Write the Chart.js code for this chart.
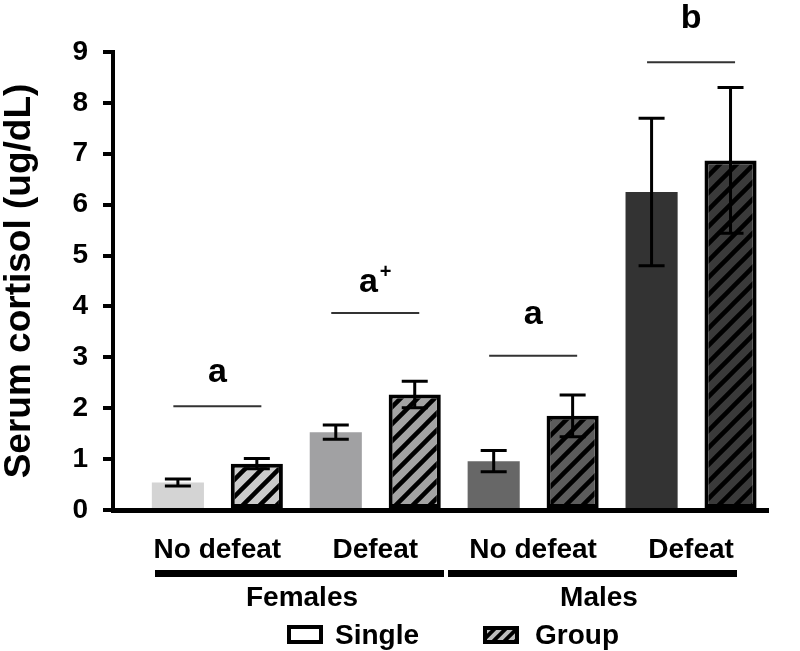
<!DOCTYPE html>
<html><head><meta charset="utf-8">
<script src="https://cdn.jsdelivr.net/npm/chart.js@4/dist/chart.umd.min.js"></script>
<style>html,body{margin:0;padding:0;background:#fff;}</style>
</head><body>
<canvas id="c" width="800" height="651"></canvas>
<script>
// ---- data ----
const categories = ['No defeat', 'Defeat', 'No defeat', 'Defeat'];
const sexGroups = ['Females', 'Males'];
const seriesNames = ['Single', 'Group'];
const singleMeans = [0.54, 1.53, 0.96, 6.25];
const singleErrors = [0.07, 0.14, 0.21, 1.45];
const groupMeans = [0.91, 2.27, 1.85, 6.87];
const groupErrors = [0.10, 0.26, 0.41, 1.43];
const yTicks = [0, 1, 2, 3, 4, 5, 6, 7, 8, 9];
const sigLetters = ['a', 'a', 'a', 'b'];
const sigSup = ['', '+', '', ''];
const sigLineLevels = [2.04, 3.87, 3.03, 8.80];
const sigTextLevels = [2.51, 4.28, 3.66, 9.47];

// ---- styles ----
const FONT = "'Liberation Sans', Arial, sans-serif";
const singleColors = ['#d4d4d4', '#a1a1a3', '#676767', '#333333'];
const groupColors = ['#cbcbcb', '#a3a3a3', '#5c5c5c', '#3a3a3a'];

function hatch(bg) {
  const s = 17;
  const c = document.createElement('canvas');
  c.width = s; c.height = s;
  const x = c.getContext('2d');
  x.fillStyle = bg; x.fillRect(0, 0, s, s);
  x.strokeStyle = '#000'; x.lineWidth = 4.5;
  x.beginPath();
  x.moveTo(-s, 2 * s); x.lineTo(2 * s, -s);
  x.moveTo(-s, s); x.lineTo(s, -s);
  x.moveTo(0, 2 * s); x.lineTo(2 * s, 0);
  x.stroke();
  return x.createPattern(c, 'repeat');
}

const errorBars = {
  id: 'errorBars',
  afterDatasetsDraw(chart) {
    const ctx = chart.ctx, y = chart.scales.y;
    const errs = [singleErrors, groupErrors];
    const means = [singleMeans, groupMeans];
    ctx.save();
    ctx.strokeStyle = '#000';
    ctx.lineWidth = 3;
    chart.data.datasets.forEach((ds, di) => {
      chart.getDatasetMeta(di).data.forEach((bar, i) => {
        const m = means[di][i], e = errs[di][i];
        const yt = y.getPixelForValue(m + e), yb = y.getPixelForValue(m - e);
        const x = bar.x;
        ctx.beginPath();
        ctx.moveTo(x, yt); ctx.lineTo(x, yb);
        ctx.moveTo(x - 13, yt); ctx.lineTo(x + 13, yt);
        ctx.moveTo(x - 13, yb); ctx.lineTo(x + 13, yb);
        ctx.stroke();
      });
    });
    ctx.restore();
  }
};

const decorations = {
  id: 'decorations',
  afterDraw(chart) {
    const ctx = chart.ctx, xs = chart.scales.x, ys = chart.scales.y;
    ctx.save();
    // significance lines and letters
    categories.forEach((c, i) => {
      const cx = xs.getPixelForValue(i);
      const ly = ys.getPixelForValue(sigLineLevels[i]);
      ctx.strokeStyle = '#333';
      ctx.lineWidth = 2;
      ctx.beginPath();
      ctx.moveTo(cx - 44, ly); ctx.lineTo(cx + 44, ly);
      ctx.stroke();
      const ty = ys.getPixelForValue(sigTextLevels[i]);
      ctx.fillStyle = '#000';
      ctx.textBaseline = 'alphabetic';
      ctx.font = 'bold 34px ' + FONT;
      const w1 = ctx.measureText(sigLetters[i]).width;
      let w2 = 0;
      if (sigSup[i]) { ctx.font = 'bold 20px ' + FONT; w2 = ctx.measureText(sigSup[i]).width + 2; }
      const sx = cx - (w1 + w2) / 2;
      ctx.font = 'bold 34px ' + FONT;
      ctx.textAlign = 'left';
      ctx.fillText(sigLetters[i], sx, ty);
      if (sigSup[i]) {
        ctx.font = 'bold 20px ' + FONT;
        ctx.fillText(sigSup[i], sx + w1 + 2, ty - 14);
      }
    });
    // group underlines
    ctx.fillStyle = '#000';
    const spans = [[155, 444], [448, 737]];
    spans.forEach(s => ctx.fillRect(s[0], 570, s[1] - s[0], 7));
    ctx.font = 'bold 28px ' + FONT;
    ctx.textAlign = 'center';
    ctx.textBaseline = 'middle';
    const gx = [302, 599];
    sexGroups.forEach((g, i) => ctx.fillText(g, gx[i], 598));
    // legend
    ctx.lineWidth = 4;
    ctx.strokeStyle = '#000';
    ctx.fillStyle = '#fff';
    ctx.fillRect(289, 627, 32, 15);
    ctx.strokeRect(289, 627, 32, 15);
    ctx.fillStyle = '#000';
    ctx.fillRect(483, 626, 36, 18);
    ctx.save();
    ctx.beginPath(); ctx.rect(487, 630, 28, 10); ctx.clip();
    ctx.strokeStyle = '#bdbdbd'; ctx.lineWidth = 4;
    ctx.beginPath();
    for (let k = -2; k < 5; k++) { const bx = 487 + k * 11; ctx.moveTo(bx, 642); ctx.lineTo(bx + 14, 628); }
    ctx.stroke();
    ctx.restore();
    ctx.fillStyle = '#000';
    ctx.textAlign = 'left';
    ctx.font = 'bold 28px ' + FONT;
    ctx.fillText(seriesNames[0], 335, 636);
    ctx.fillText(seriesNames[1], 535, 636);
    ctx.restore();
  }
};

new Chart(document.getElementById('c'), {
  type: 'bar',
  data: {
    datasets: [
      { label: seriesNames[0], data: singleMeans.map((v, i) => ({ x: i, y: v })),
        backgroundColor: singleColors, borderWidth: 0,
        categoryPercentage: 1, barPercentage: 0.66 },
      { label: seriesNames[1], data: groupMeans.map((v, i) => ({ x: i, y: v })),
        backgroundColor: groupColors.map(hatch), borderColor: '#000', borderWidth: 4,
        borderSkipped: false,
        categoryPercentage: 1, barPercentage: 0.66 }
    ]
  },
  options: {
    responsive: false,
    animation: false,
    devicePixelRatio: 1,
    layout: { padding: { top: 52, right: 32, bottom: 0, left: 0 } },
    plugins: { legend: { display: false }, tooltip: { enabled: false } },
    scales: {
      x: {
        type: 'linear', min: -0.6609, max: 3.4873, bounds: 'data', offset: false,
        grid: { display: false, offset: false },
        border: { display: true, color: '#000', width: 5 },
        afterBuildTicks: s => { s.ticks = categories.map((_, i) => ({ value: i })); },
        afterFit: s => { s.height = 141; },
        ticks: { autoSkip: false, maxRotation: 0, padding: 15, color: '#000',
          font: { family: FONT, size: 28, weight: 'bold' },
          callback: v => categories[v] !== undefined ? categories[v] : '' }
      },
      y: {
        min: 0, max: 9,
        afterBuildTicks: s => { s.ticks = yTicks.map(v => ({ value: v })); },
        afterFit: s => { s.width = 113; },
        grid: { drawOnChartArea: false, drawTicks: true, tickLength: 10, lineWidth: 4, color: '#000' },
        border: { display: true, color: '#000', width: 4 },
        ticks: { padding: 15, color: '#000', font: { family: FONT, size: 28, weight: 'bold' } },
        title: { display: true, text: 'Serum cortisol (ug/dL)', color: '#000',
          font: { family: FONT, size: 37, weight: 'bold', lineHeight: 1 },
          padding: { top: 1, bottom: 0 } }
      }
    }
  },
  plugins: [errorBars, decorations]
});
</script>
</body></html>
